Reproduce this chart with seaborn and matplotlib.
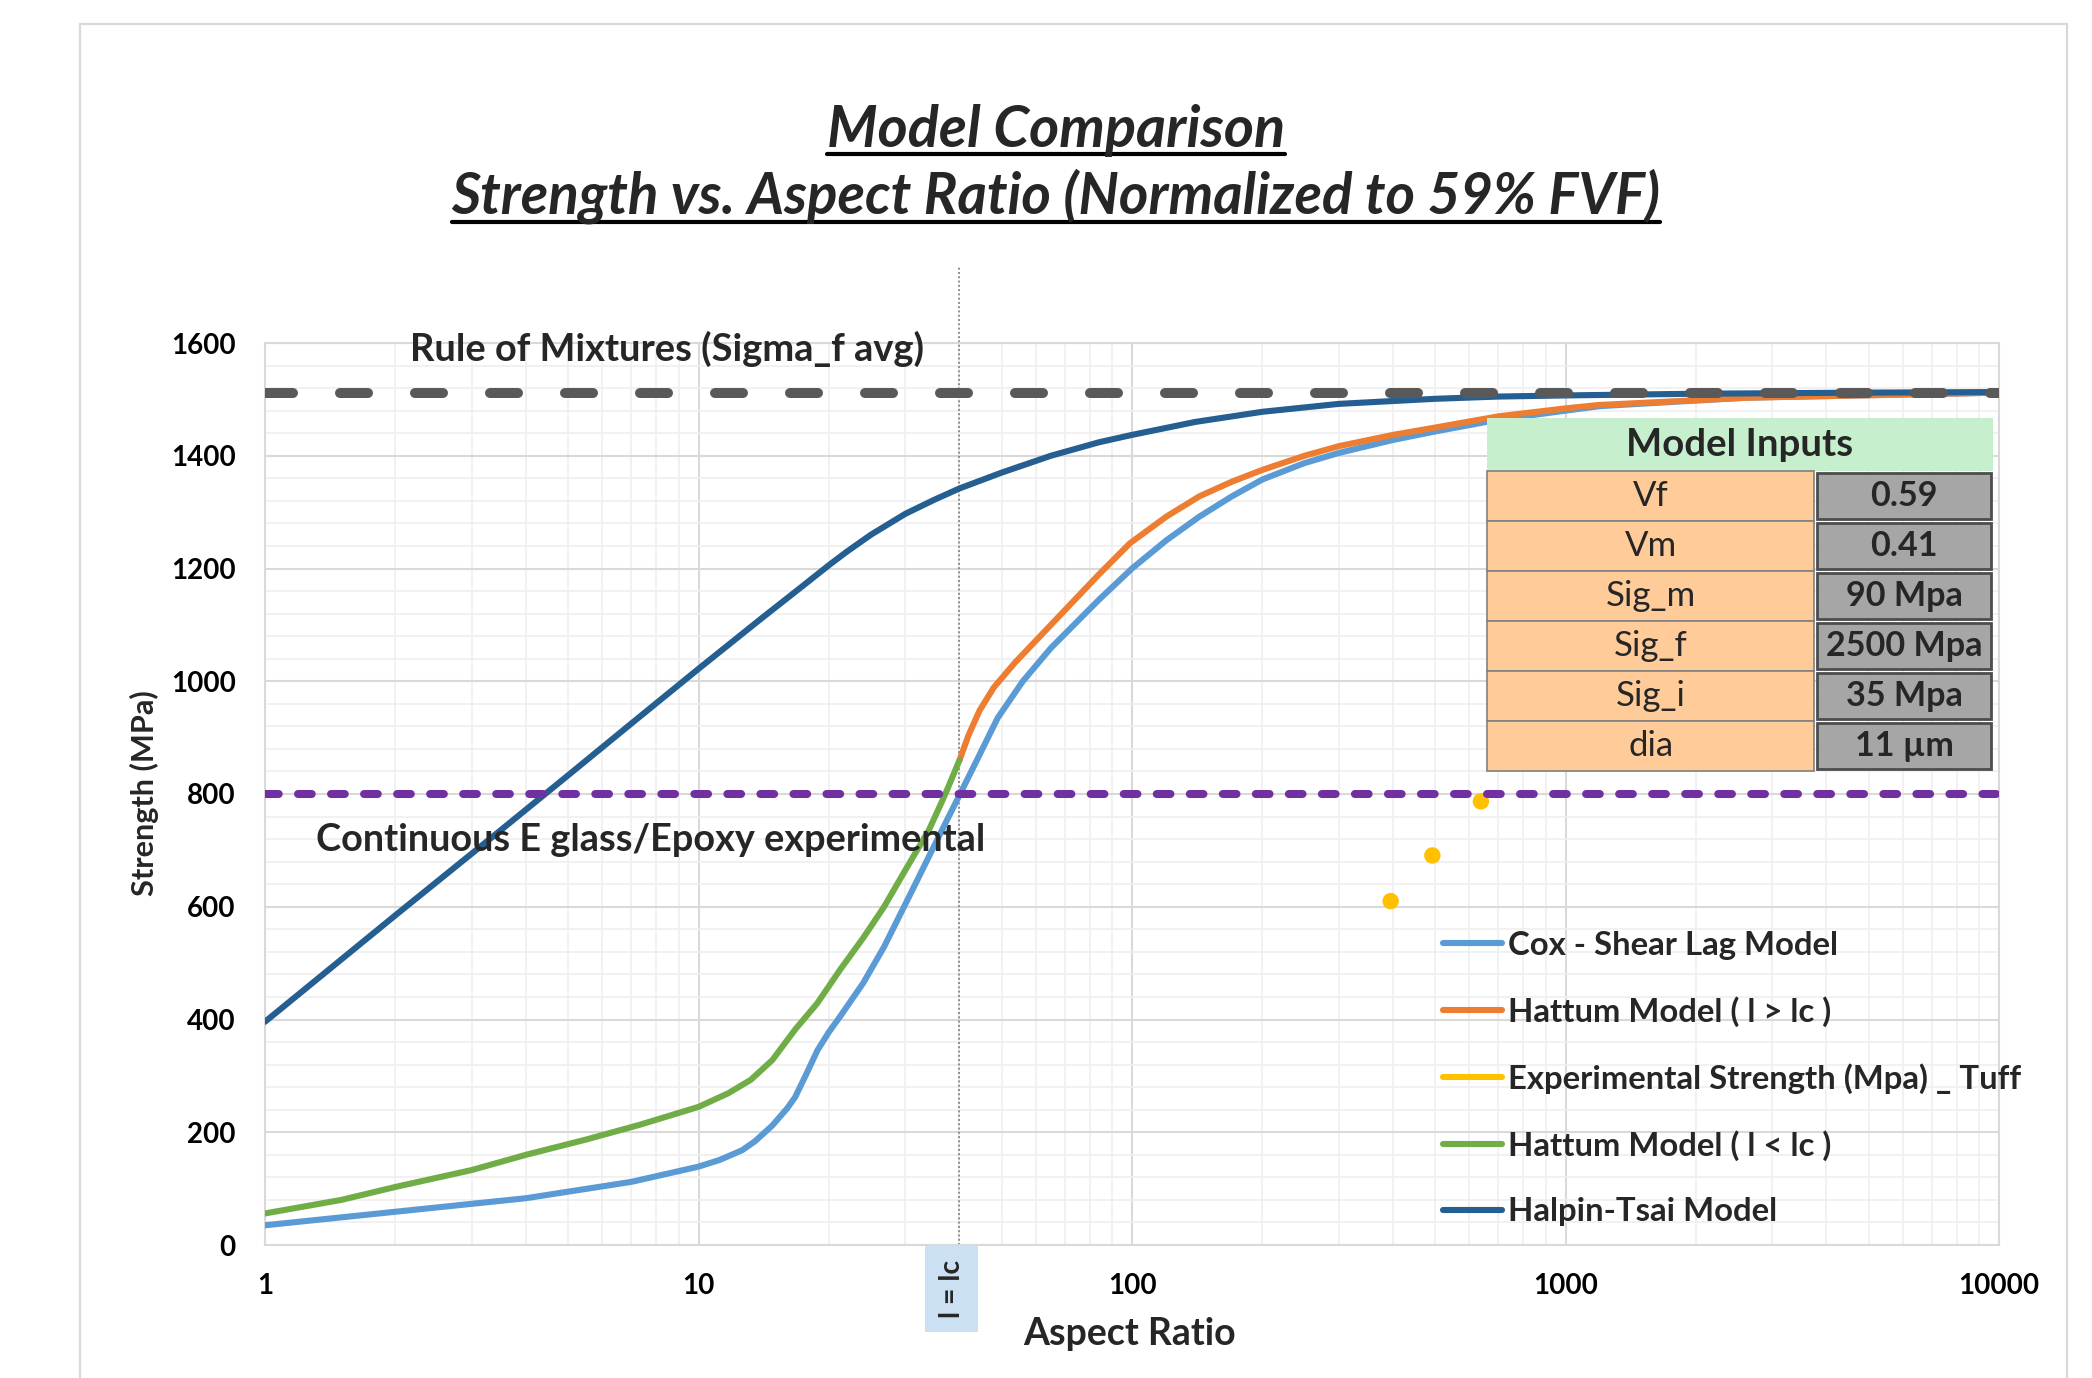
import matplotlib
matplotlib.use("Agg")
import numpy as np
import pandas as pd
import matplotlib.pyplot as plt
import seaborn as sns
from matplotlib.lines import Line2D
from matplotlib.patches import Rectangle
from matplotlib.ticker import LogLocator, MultipleLocator, NullFormatter

# ---------------- data ----------------
cox_ar = [1, 2, 4, 7, 10, 11.2, 12.6, 13.5, 14.8, 16, 16.7, 17.7, 18.8, 20, 21.2, 24,
          26.8, 30.7, 34, 37, 40, 44, 49, 56, 65, 84, 100, 120, 143, 170, 200, 250,
          300, 400, 500, 700, 1000, 1200, 2600, 10000]
cox_strength = [35, 59, 83, 112, 139, 151, 168, 184, 212, 242, 262, 302, 345, 378, 405, 465,
                529, 620, 689, 746, 798, 862, 935, 1000, 1059, 1145, 1200, 1250, 1292, 1328,
                1358, 1387, 1405, 1428, 1443, 1464, 1480, 1488, 1503, 1512]

hattum_long_ar = [40, 42, 44.5, 48, 53.7, 65, 78, 84, 99, 120, 143, 170, 200, 250, 300,
                  400, 492, 701, 1000, 1191, 2640, 10000]
hattum_long_strength = [860, 905, 948, 989, 1033, 1100, 1164, 1190, 1245, 1292, 1328, 1354,
                        1375, 1400, 1417, 1437, 1449, 1470, 1484, 1490, 1503, 1512]

exp_ar = [395, 493, 638]
exp_strength = [610, 691, 787]

hattum_short_ar = [1, 1.5, 2, 3, 4, 5.5, 7.3, 10, 11.7, 13.2, 14.8, 16.7, 18.8, 21.2, 24,
                   26.8, 30, 34, 37, 40]
hattum_short_strength = [56, 80, 103, 133, 160, 187, 213, 245, 269, 293, 328, 382, 429, 488,
                         545, 600, 665, 736, 798, 860]

halpin_ar = [1, 2, 3.5, 5, 7, 10, 14, 17, 20, 22, 25, 30, 35, 40, 50, 65, 84, 100, 140,
             200, 300, 500, 700, 1000, 2000, 5000, 10000]
halpin_strength = [396, 585, 736, 833, 925, 1022, 1112, 1163, 1206, 1230, 1260, 1297, 1322,
                   1342, 1370, 1400, 1424, 1437, 1460, 1478, 1492, 1501, 1505, 1507, 1510,
                   1512, 1513]

rom_strength = 1512          # Rule of Mixtures (Sigma_f avg)
continuous_strength = 800    # Continuous E glass/Epoxy experimental
critical_ar = 40             # l = lc

legend_labels = ["Cox - Shear Lag Model", "Hattum Model ( l > lc )",
                 "Experimental Strength (Mpa) _ Tuff", "Hattum Model ( l < lc )",
                 "Halpin-Tsai Model"]
legend_colors = ["#5B9BD5", "#ED7D31", "#FFC000", "#70AD47", "#255E91"]

x_ticks = [1, 10, 100, 1000, 10000]
x_tick_labels = ["1", "10", "100", "1000", "10000"]
y_ticks = [0, 200, 400, 600, 800, 1000, 1200, 1400, 1600]
y_tick_labels = ["0", "200", "400", "600", "800", "1000", "1200", "1400", "1600"]

input_names = ["Vf", "Vm", "Sig_m", "Sig_f", "Sig_i", "dia"]
input_values = ["0.59", "0.41", "90 Mpa", "2500 Mpa", "35 Mpa", "11 \u00b5m"]

# ---------------- figure ----------------
sns.set_theme(style="white")
plt.rcParams["font.family"] = ["Lato", "DejaVu Sans"]

W, H = 2092, 1378
fig = plt.figure(figsize=(W / 100, H / 100), dpi=100)
fig.patch.set_facecolor("white")
ax = fig.add_axes([265 / W, (H - 1245) / H, (1999 - 265) / W, (1245 - 343) / H])
renderer = fig.canvas.get_renderer()

LW = 4.4

def fig_rect(x0, y0, x1, y1, **kw):
    r = Rectangle((x0 / W, 1 - y1 / H), (x1 - x0) / W, (y1 - y0) / H,
                  transform=fig.transFigure, **kw)
    fig.add_artist(r)
    return r

def fit(t, target, dim="width"):
    for _ in range(4):
        bb = t.get_window_extent(renderer)
        cur = bb.width if dim == "width" else bb.height
        t.set_fontsize(t.get_fontsize() * target / cur)
    return t

# model curves
curves = [
    (cox_ar, cox_strength, legend_colors[0]),
    (hattum_long_ar, hattum_long_strength, legend_colors[1]),
    (hattum_short_ar, hattum_short_strength, legend_colors[3]),
    (halpin_ar, halpin_strength, legend_colors[4]),
]
for i, (xs, ys, col) in enumerate(curves):
    df = pd.DataFrame({"ar": xs, "strength": ys})
    sns.lineplot(data=df, x="ar", y="strength", ax=ax, color=col, lw=LW, sort=False,
                 estimator=None, legend=False, solid_capstyle="round",
                 solid_joinstyle="round", zorder=3 + i * 0.1)

exp_df = pd.DataFrame({"ar": exp_ar, "strength": exp_strength})
sns.scatterplot(data=exp_df, x="ar", y="strength", ax=ax, color=legend_colors[2],
                s=140, edgecolor="none", legend=False, zorder=3.5)

# reference lines
ax.axhline(rom_strength, color="#595959", lw=7.2, dashes=(2.8, 4.7),
           dash_capstyle="round", zorder=4)
ax.axhline(continuous_strength, color="#7030A0", lw=5.8, dashes=(1.7, 2.4),
           dash_capstyle="round", zorder=4)
ax.axvline(critical_ar, 0, (1245 - 267) / 902, color="#8C8C8C", lw=1.4,
           ls=(0, (1, 1.2)), clip_on=False, zorder=2)

# axes
ax.set_xscale("log")
ax.set_xlim(1, 10000)
ax.set_ylim(0, 1600)
ax.set_xticks(x_ticks)
ax.set_xticklabels(x_tick_labels, fontweight="bold")
ax.xaxis.set_minor_locator(LogLocator(base=10, subs=range(2, 10), numticks=20))
ax.xaxis.set_minor_formatter(NullFormatter())
ax.set_yticks(y_ticks)
ax.set_yticklabels(y_tick_labels, fontweight="bold")
ax.yaxis.set_minor_locator(MultipleLocator(40))
ax.tick_params(which="both", length=0)
ax.tick_params(axis="y", labelsize=20, pad=21, labelcolor="black")
ax.tick_params(axis="x", labelsize=20, pad=20, labelcolor="black")
ax.grid(which="major", color="#D9D9D9", lw=1.5)
ax.grid(which="minor", color="#EFEFEF", lw=1.2)
ax.set_axisbelow(True)
ax.set_xlabel("")
ax.set_ylabel("")
for sp in ax.spines.values():
    sp.set_color("#D9D9D9")
    sp.set_linewidth(1.5)

# axis titles
ylab = fig.text(144 / W, 1 - 793 / H, "Strength (MPa)", rotation=90, ha="center",
                va="center", fontweight="bold", fontsize=20)
fit(ylab, 206, "height")
xlab = fig.text(1130 / W, 1 - 1334 / H, "Aspect Ratio", ha="center", va="center",
                fontweight="bold", fontsize=22)
fit(xlab, 213)

# chart titles with underline
for txt, base, target, uoff in [("Model Comparison", 146.7, 458, 7.5),
                                ("Strength vs. Aspect Ratio (Normalized to 59% FVF)", 213, 1209, 8.5)]:
    t = fig.text(1056 / W, 1 - base / H, txt, ha="center", va="baseline",
                 fontweight="bold", fontstyle="italic", fontsize=34)
    fit(t, target)
    bb = t.get_window_extent(renderer)
    yline = 1 - (base + uoff) / H
    fig.add_artist(Line2D([bb.x0 / W, bb.x1 / W], [yline, yline], color="black",
                          lw=3.0, transform=fig.transFigure))

# in-plot annotations
t = fig.text(410 / W, 1 - 360.5 / H, "Rule of Mixtures (Sigma_f avg)", ha="left",
             va="baseline", fontweight="bold", fontsize=22)
fit(t, 515)
t = fig.text(316 / W, 1 - 851 / H, "Continuous E glass/Epoxy experimental", ha="left",
             va="baseline", fontweight="bold", fontsize=22, zorder=5)
fit(t, 668)

# l = lc marker below the axis
fig_rect(925, 1246, 978, 1332, fc="#CBE0F3", ec="none")
t = fig.text(951.5 / W, 1 - 1289 / H, "l = lc", rotation=90, ha="center", va="center",
             fontweight="bold", fontsize=17)
fit(t, 58, "height")

# Model Inputs table
fig_rect(1487, 418, 1993, 471, fc="#C6EFCE", ec="none")
t = fig.text(1740 / W, 1 - 445 / H, "Model Inputs", ha="center", va="center",
             fontweight="bold", fontsize=22)
fit(t, 228)
for i, (nm, val) in enumerate(zip(input_names, input_values)):
    y0 = 471 + 50 * i
    fig_rect(1487, y0, 1814, y0 + 50, fc="#FFCC99", ec="#808080", lw=1.2)
    fig_rect(1817, y0 + 2, 1991, y0 + 48, fc="#A6A6A6", ec="#4D4D4D", lw=2.0)
    tn = fig.text(1651 / W, 1 - (y0 + 25) / H, nm, ha="center", va="center",
                  fontsize=20)
    tv = fig.text(1904 / W, 1 - (y0 + 25) / H, val, ha="center", va="center",
                  fontweight="bold", fontsize=20)
    if nm == "Sig_m":
        name_t = tn
    if val == "2500 Mpa":
        val_t = tv
fit(name_t, 90)
fit(val_t, 156)
for tx in fig.texts:
    if tx.get_text() in input_names:
        tx.set_fontsize(name_t.get_fontsize())
    if tx.get_text() in input_values:
        tx.set_fontsize(val_t.get_fontsize())

# outer chart frame
fig_rect(80, 24, 2067, 1420, fc="none", ec="#D9D9D9", lw=1.6)

# legend
probe = fig.text(0, 0, legend_labels[2], fontweight="bold", fontsize=20)
fit(probe, 514)
leg_fs = probe.get_fontsize()
probe.remove()
fs_px = leg_fs * 100 / 72
handles = [Line2D([], [], color=c, lw=LW) for c in legend_colors]
spacing = 1.0
anchor_y = 1 - 925 / H
for _ in range(3):
    leg = ax.legend(handles, legend_labels, loc="upper left",
                    bbox_to_anchor=(1443 / W, anchor_y), bbox_transform=fig.transFigure,
                    frameon=False, prop={"weight": "bold", "size": leg_fs},
                    handlelength=59 / fs_px, handletextpad=6 / fs_px,
                    labelspacing=spacing, borderpad=0, borderaxespad=0)
    fig.canvas.draw()
    cs = [(tx.get_window_extent(renderer).y0 + tx.get_window_extent(renderer).y1) / 2
          for tx in leg.get_texts()]
    pitch = (cs[0] - cs[-1]) / 4
    spacing += (66.7 - pitch) / fs_px
    anchor_y += ((H - 945) - cs[0]) / H

fig.savefig("out.png", dpi=100)
